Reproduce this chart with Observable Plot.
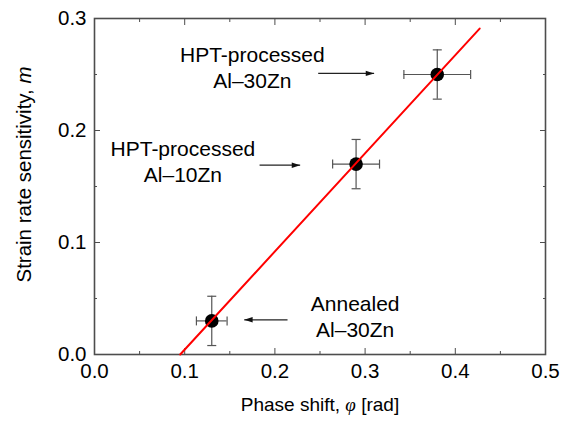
<!DOCTYPE html>
<html><head><meta charset="utf-8">
<script src="https://cdn.jsdelivr.net/npm/d3@7"></script>
<script src="https://cdn.jsdelivr.net/npm/@observablehq/plot@0.6"></script>
<style>
html,body{margin:0;padding:0;background:#fff}
</style>
</head><body><div id="chart"></div>
<script>
// ---- data ----
const phi = [0.13, 0.29, 0.38];
const mVal = [0.03, 0.17, 0.25];
const phiErr = [0.017, 0.026, 0.037];
const mErr = [0.022, 0.022, 0.022];
const fitPhi = [0.095, 0.427];
const fitM = [0.0, 0.291];
const annText = ["Annealed\nAl\u201330Zn", "HPT-processed\nAl\u201310Zn", "HPT-processed\nAl\u201330Zn"];
const annX = [0.289, 0.098, 0.175];
const annY = [0.0345, 0.173, 0.2573];
const arrowX1 = [0.214, 0.183, 0.248];
const arrowX2 = [0.166, 0.228, 0.310];
const arrowY = [0.031, 0.169, 0.251];
const xTicks = [0, 0.1, 0.2, 0.3, 0.4, 0.5];
const xMinor = [0.05, 0.15, 0.25, 0.35, 0.45];
const yTicks = [0, 0.1, 0.2, 0.3];
const yMinor = [0.05, 0.15, 0.25];
const xTitle = "Phase shift, \u03C6 [rad]";
const yTitle = "Strain rate sensitivity, m";

// ---- tables ----
const points = phi.map((p, i) => ({phi: p, m: mVal[i], ex: phiErr[i], ey: mErr[i]}));
const fit = fitPhi.map((p, i) => ({phi: p, m: fitM[i]}));
const ann = annText.map((t, i) => ({t, x: annX[i], y: annY[i]}));
const arrows = arrowX1.map((x1, i) => ({x1, x2: arrowX2[i], y: arrowY[i]}));

const vbar = {draw(ctx, size) { const r = Math.sqrt(size / Math.PI); ctx.moveTo(0, -r); ctx.lineTo(0, r); }};
const hbar = {draw(ctx, size) { const r = Math.sqrt(size / Math.PI); ctx.moveTo(-r, 0); ctx.lineTo(r, 0); }};
const head = {draw(ctx, size) { const r = Math.sqrt(size / Math.PI); ctx.moveTo(0, 0); ctx.lineTo(-2 * r, -0.65 * r); ctx.lineTo(-2 * r, 0.65 * r); ctx.closePath(); }};

const axisColor = "#4d4d4d";
const errColor = "#555";
const tickFs = 20.5;
const annFs = 21;

const chart = Plot.plot({
  width: 566,
  height: 421,
  marginLeft: 94,
  marginRight: 21,
  marginTop: 18,
  marginBottom: 67,
  style: {fontFamily: "'Liberation Sans', Arial, sans-serif", fontSize: tickFs + "px", background: "#fff", color: "#000"},
  x: {domain: [0, 0.5]},
  y: {domain: [0, 0.3]},
  marks: [
    // axes (inward ticks)
    Plot.axisX({anchor: "bottom", ticks: xTicks, tickSize: -6, tickPadding: 15, tickFormat: d => d.toFixed(1), fontSize: tickFs, stroke: axisColor, fill: "#000", label: null}),
    Plot.axisX({anchor: "bottom", ticks: xMinor, tickSize: -3, tickFormat: () => "", stroke: axisColor, label: null}),
    Plot.axisX({anchor: "top", ticks: xTicks, tickSize: -6, tickFormat: () => "", stroke: axisColor, label: null}),
    Plot.axisX({anchor: "top", ticks: xMinor, tickSize: -3, tickFormat: () => "", stroke: axisColor, label: null}),
    Plot.axisY({anchor: "left", ticks: yTicks, tickSize: -6, tickPadding: 14, tickFormat: d => d.toFixed(1), fontSize: tickFs, stroke: axisColor, fill: "#000", label: null}),
    Plot.axisY({anchor: "left", ticks: yMinor, tickSize: -3, tickFormat: () => "", stroke: axisColor, label: null}),
    Plot.axisY({anchor: "right", ticks: yTicks, tickSize: -6, tickFormat: () => "", stroke: axisColor, label: null}),
    Plot.axisY({anchor: "right", ticks: yMinor, tickSize: -3, tickFormat: () => "", stroke: axisColor, label: null}),
    Plot.frame({stroke: axisColor, strokeWidth: 1.6}),
    // axis titles
    Plot.text([xTitle], {frameAnchor: "bottom", dy: 50.6, text: d => d, fontSize: 19, lineAnchor: "middle", textAnchor: "middle", fill: "#000", className: "xtitle"}),
    Plot.text([yTitle], {frameAnchor: "left", dx: -70, dy: -12, rotate: -90, text: d => d, fontSize: tickFs, lineAnchor: "middle", textAnchor: "middle", fill: "#000", className: "ytitle"}),
    // error bars
    Plot.ruleY(points, {y: "m", x1: d => d.phi - d.ex, x2: d => d.phi + d.ex, stroke: errColor, strokeWidth: 1.2}),
    Plot.ruleX(points, {x: "phi", y1: d => d.m - d.ey, y2: d => d.m + d.ey, stroke: errColor, strokeWidth: 1.2}),
    Plot.dot(points, {x: d => d.phi - d.ex, y: "m", symbol: vbar, r: 4.5, stroke: errColor, fill: "none", strokeWidth: 1.2}),
    Plot.dot(points, {x: d => d.phi + d.ex, y: "m", symbol: vbar, r: 4.5, stroke: errColor, fill: "none", strokeWidth: 1.2}),
    Plot.dot(points, {x: "phi", y: d => d.m - d.ey, symbol: hbar, r: 4.5, stroke: errColor, fill: "none", strokeWidth: 1.2}),
    Plot.dot(points, {x: "phi", y: d => d.m + d.ey, symbol: hbar, r: 4.5, stroke: errColor, fill: "none", strokeWidth: 1.2}),
    // points
    Plot.dot(points, {x: "phi", y: "m", r: 6.8, fill: "#000", stroke: "none"}),
    // fit line
    Plot.line(fit, {x: "phi", y: "m", stroke: "#ff0000", strokeWidth: 2}),
    // arrows
    Plot.link(arrows, {x1: "x1", x2: "x2", y1: "y", y2: "y", stroke: "#222", strokeWidth: 1.2}),
    Plot.dot(arrows, {x: "x2", y: "y", symbol: head, r: 4.2, fill: "#111", stroke: "none", rotate: d => d.x2 > d.x1 ? 0 : 180}),
    // annotations
    Plot.text(ann, {x: "x", y: "y", text: "t", fontSize: annFs, lineHeight: 1.25, lineAnchor: "middle", textAnchor: "middle", fill: "#000"})
  ]
});
document.getElementById("chart").appendChild(chart);

// italic symbols in axis titles
function italicize(sel, ch, fam) {
  d3.select(chart).selectAll(sel + " text").each(function () {
    const t = this.textContent;
    const k = t.lastIndexOf(ch);
    if (k < 0) return;
    const el = d3.select(this);
    el.text(null);
    el.append("tspan").text(t.slice(0, k));
    const it = el.append("tspan").attr("font-style", "italic").text(ch);
    if (fam) it.attr("font-family", fam);
    el.append("tspan").text(t.slice(k + 1));
  });
}
italicize(".xtitle", "\u03C6", "'Liberation Serif', 'DejaVu Serif', serif");
italicize(".ytitle", "m", null);
</script>
</body></html>
